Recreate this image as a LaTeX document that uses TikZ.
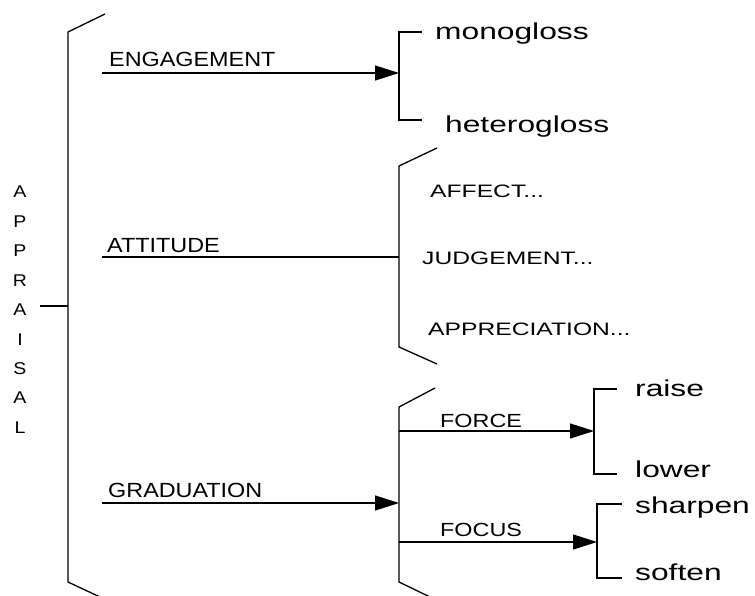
\documentclass[tikz,border=0pt]{standalone}
\usepackage{fontspec}
\setmainfont{Liberation Sans}
\usepackage{graphicx}
\usetikzlibrary{arrows.meta}
\newcommand{\sx}[2]{\scalebox{#1}[1]{#2}}
\tikzset{
  lbl/.style={anchor=base west, inner sep=0pt, text=black},
  bigcaps/.style={lbl, font=\fontsize{20.5}{24}\selectfont},
  smallcaps/.style={lbl, font=\fontsize{18}{22}\selectfont},
  midcaps/.style={lbl, font=\fontsize{19}{22}\selectfont},
  lower/.style={lbl, font=\fontsize{23}{27}\selectfont},
  vert/.style={anchor=base, inner sep=0pt, font=\fontsize{17}{20}\selectfont},
  ln/.style={line width=1.3pt, line join=miter},
  arr/.style={ln, -{Triangle[length=24pt,width=15pt]}},
}
\begin{document}
\begin{tikzpicture}[x=1pt, y=-1pt]
\useasboundingbox (0,0) rectangle (755,596);
% vertical APPRAISAL
\foreach \ch [count=\i from 0] in {A,P,P,R,A,I,S,A,L}{
  \node[vert] (ap\i) at (20,{198+29.4*\i}) {\sx{1.15}{\ch}};
}
% big bracket
\coordinate (bt) at (105,14);
\coordinate (btc) at (68,32);
\coordinate (bbc) at (68,582);
\coordinate (bb) at (100,597);
\draw[ln] (bt) -- (btc) -- (bbc) -- (bb);
\coordinate (stemL) at (40,306);
\coordinate (stemR) at (68,306);
\draw[ln] (stemL) -- (stemR);

% ENGAGEMENT
\node[bigcaps] (eng) at (109,67) {\sx{1.14}{ENGAGEMENT}};
\coordinate (engS) at (102,73);
\coordinate (engE) at (399,73);
\draw[arr] (engS) -- (engE);
\coordinate (ebt) at (422,32);
\coordinate (ebtc) at (399,32);
\coordinate (ebbc) at (399,120);
\coordinate (ebb) at (422,120);
\draw[ln] (ebt) -- (ebtc) -- (ebbc) -- (ebb);
\node[lower] (mono) at (435,40) {\sx{1.38}{monogloss}};
\node[lower] (hetero) at (445,133) {\sx{1.38}{heterogloss}};

% ATTITUDE
\node[bigcaps] (att) at (107,253) {\sx{1.14}{ATTITUDE}};
\coordinate (attS) at (102,257);
\coordinate (attE) at (399,257);
\draw[ln] (attS) -- (attE);
\coordinate (abt) at (437,148);
\coordinate (abtc) at (399,166);
\coordinate (abbc) at (399,347);
\coordinate (abb) at (437,364);
\draw[ln] (abt) -- (abtc) -- (abbc) -- (abb);
\node[smallcaps] (aff) at (430,198) {\sx{1.37}{AFFECT...}};
\node[smallcaps] (jud) at (422,264) {\sx{1.37}{JUDGEMENT...}};
\node[smallcaps] (app) at (428,335) {\sx{1.37}{APPRECIATION...}};

% GRADUATION
\node[bigcaps] (grad) at (108,497) {\sx{1.14}{GRADUATION}};
\coordinate (gradS) at (102,503);
\coordinate (gradE) at (399,503);
\draw[arr] (gradS) -- (gradE);
\coordinate (gbt) at (435,388);
\coordinate (gbtc) at (399,407);
\coordinate (gbbc) at (399,582);
\coordinate (gbb) at (430,597);
\draw[ln] (gbt) -- (gbtc) -- (gbbc) -- (gbb);

% FORCE
\node[midcaps] (force) at (440,427) {\sx{1.23}{FORCE}};
\coordinate (forS) at (399,431);
\coordinate (forE) at (594,431);
\draw[arr] (forS) -- (forE);
\coordinate (fbt) at (617,389);
\coordinate (fbtc) at (594,389);
\coordinate (fbbc) at (594,474);
\coordinate (fbb) at (617,474);
\draw[ln] (fbt) -- (fbtc) -- (fbbc) -- (fbb);
\node[lower] (raise) at (635,396) {\sx{1.38}{raise}};
\node[lower] (lower) at (635,477) {\sx{1.38}{lower}};

% FOCUS
\node[midcaps] (focus) at (440,536) {\sx{1.23}{FOCUS}};
\coordinate (focS) at (399,542);
\coordinate (focE) at (597,542);
\draw[arr] (focS) -- (focE);
\coordinate (cbt) at (622,504);
\coordinate (cbtc) at (597,504);
\coordinate (cbbc) at (597,578);
\coordinate (cbb) at (622,578);
\draw[ln] (cbt) -- (cbtc) -- (cbbc) -- (cbb);
\node[lower] (sharpen) at (635,513) {\sx{1.38}{sharpen}};
\node[lower] (soften) at (635,580) {\sx{1.38}{soften}};
\end{tikzpicture}
\end{document}
